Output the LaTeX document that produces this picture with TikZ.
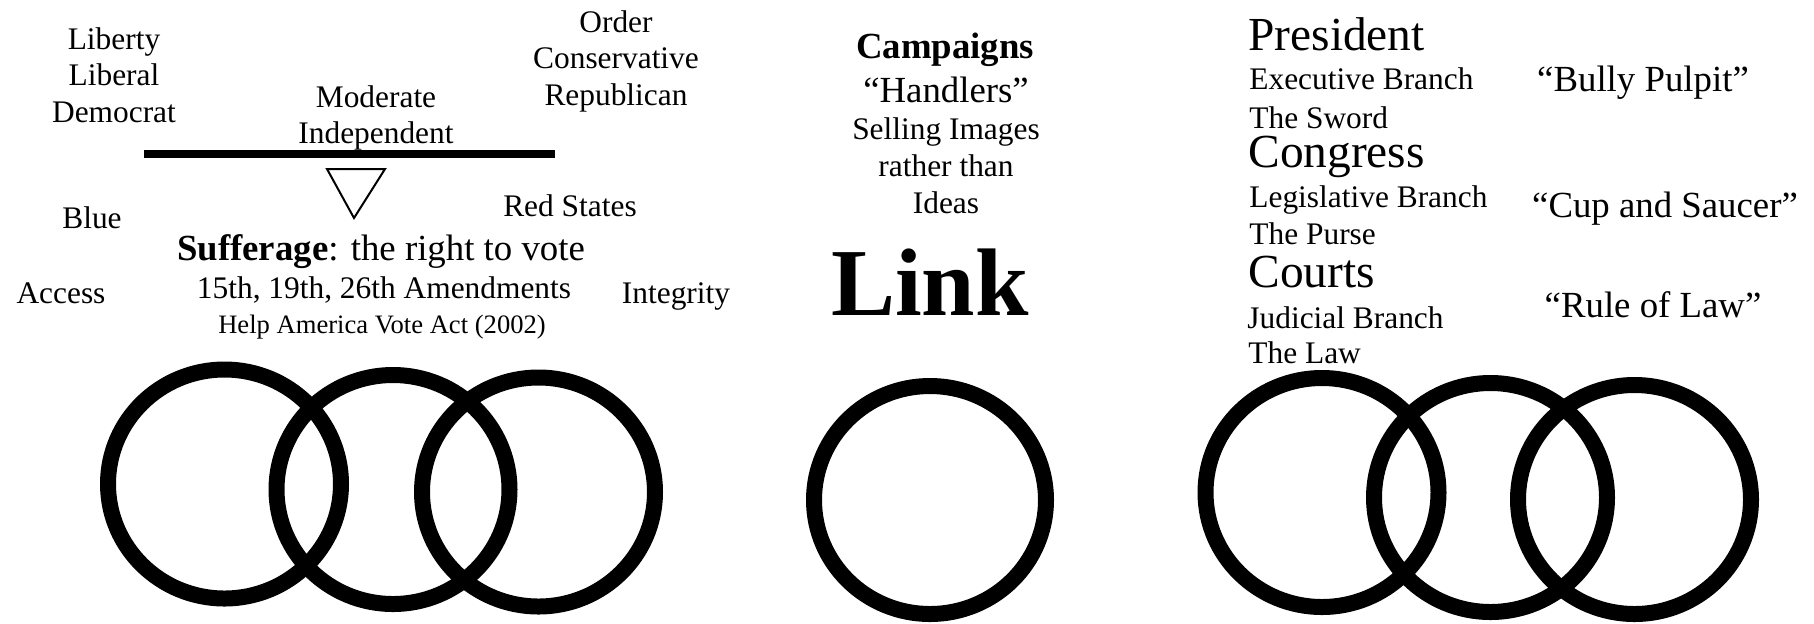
\documentclass[tikz,border=0pt]{standalone}
\usepackage{fontspec}
\setmainfont{Liberation Serif}
\tikzset{
  txt/.style={anchor=base,inner sep=0pt,font=\fontsize{15.7}{18}\selectfont},
  txtbig/.style={txt,font=\fontsize{18.4}{22}\selectfont},
  txtsmall/.style={txt,font=\fontsize{13.3}{16}\selectfont},
  branch/.style={txt,anchor=base west,font=\fontsize{23.7}{28}\selectfont},
  sub/.style={txt,anchor=base west},
  ring/.style={line width=8pt},
}

\begin{document}
\begin{tikzpicture}[x=0.5pt,y=-0.5pt]
        \useasboundingbox (0,0) rectangle (1814,623);
        \begin{scope}
            % left: the balance
            \node[txt] (liberty) at (114,49) {Liberty};
            \node[txt] (liberal) at (114,85) {Liberal};
            \node[txt] (democrat) at (114,122) {Democrat};
            \node[txt] (order) at (616,32) {Order};
            \node[txt] (conservative) at (616,68) {Conservative};
            \node[txt] (republican) at (616,105) {Republican};
            \node[txt] (moderate) at (376,107) {Moderate};
            \node[txt] (independent) at (376,143) {Independent};
            \draw[line width=4pt] (144,154) -- (555,154);
            \draw[line width=1pt] (327,169) -- (385,169) -- (354,218) -- cycle;
            \node[txt] (blue) at (92,228) {Blue};
            \node[txt] (red) at (570,216) {Red States};
            \node[txtbig] (suff) at (381,260) {\textbf{Sufferage}: the right to vote};
            \node[txt] (amend) at (384,298) {15th, 19th, 26th Amendments};
            \node[txtsmall] (hava) at (382,333) {Help America Vote Act (2002)};
            \node[txt] (access) at (61,303) {Access};
            \node[txt] (integrity) at (676,303) {Integrity};
            \draw[ring] (224.5,484) ellipse [x radius=58.25pt, y radius=57.25pt];
            \draw[ring] (393,489.5) ellipse [x radius=58.25pt, y radius=57.25pt];
            \draw[ring] (538.5,492) ellipse [x radius=58.25pt, y radius=57.25pt];
        \end{scope}
        \begin{scope}
            % middle: the link
            \node[txtbig,font=\fontsize{18.4}{22}\selectfont\bfseries] (campaigns) at (945,58) {Campaigns};
            \node[txtbig] (handlers) at (946,102) {``Handlers''};
            \node[txt] (selling) at (946,139) {Selling Images};
            \node[txt] (rather) at (946,176) {rather than};
            \node[txt] (ideas) at (946,213) {Ideas};
            \node[txt,font=\fontsize{48}{56}\selectfont\bfseries] (link) at (930,315) {Link};
            \draw[ring] (930,500) ellipse [x radius=58pt, y radius=57pt];
        \end{scope}
        \begin{scope}
            % right: the branches
            \node[branch] (president) at (1248,50) {President};
            \node[sub] (exec) at (1249,89) {Executive Branch};
            \node[sub] (sword) at (1249,128) {The Sword};
            \node[branch] (congress) at (1248,167) {Congress};
            \node[sub] (legis) at (1249,207) {Legislative Branch};
            \node[sub] (purse) at (1249,244) {The Purse};
            \node[branch] (courts) at (1248,287) {Courts};
            \node[sub] (judic) at (1247,328) {Judicial Branch};
            \node[sub] (law) at (1248,363) {The Law};
            \node[txtbig] (bully) at (1643,91) {``Bully Pulpit''};
            \node[txtbig] (cup) at (1665,217) {``Cup and Saucer''};
            \node[txtbig] (rule) at (1653,317) {``Rule of Law''};
            \draw[ring] (1322,492.5) ellipse [x radius=58.25pt, y radius=57.25pt];
            \draw[ring] (1490.5,497.5) ellipse [x radius=58.25pt, y radius=57.25pt];
            \draw[ring] (1634.5,499.5) ellipse [x radius=58.25pt, y radius=57.25pt];
        \end{scope}
    \end{tikzpicture}
\end{document}
